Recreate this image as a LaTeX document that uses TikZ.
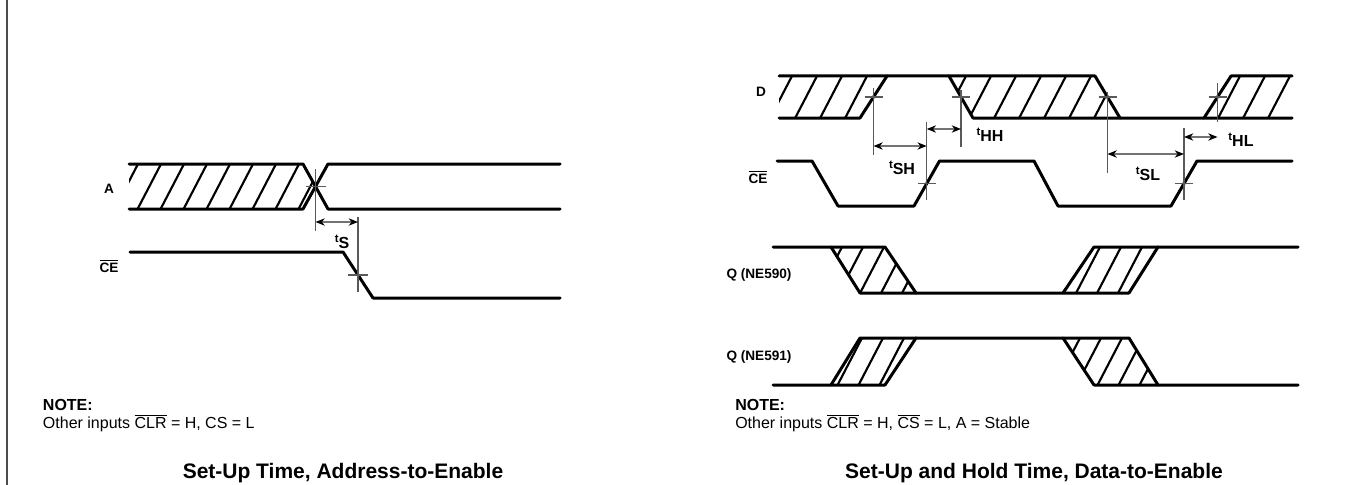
\documentclass[tikz,border=0pt]{standalone}
\usepackage{fontspec}
\setmainfont{Liberation Sans}
\usetikzlibrary{arrows.meta,calc}
\newcommand\tlab[1]{\raisebox{4.5pt}{\fontsize{8.5}{9}\selectfont t}#1}
\newcommand\hatchit[6]{% #1 clip path, #2 first top x, #3 count, #4 ytop, #5 ybot, #6 spacing
  \begin{scope}
    \clip #1;
    \foreach \k in {0,...,#3}{
      \draw[hatchline] ({#2+#6*\k+0.52*6},{#4-6}) -- ({#2+#6*\k-0.52*(#5-#4)-0.52*6},{#5+6});
    }
  \end{scope}}
\begin{document}
\begin{tikzpicture}[x=0.75pt,y=-0.75pt,
  sig/.style={line width=2.25pt,line join=round,line cap=round},
  hatchline/.style={line width=1.6pt},
  ext/.style={line width=0.9pt,draw=black!65},
  tickmark/.style={line width=0.9pt,draw=black!65},
  dim/.style={line width=0.9pt,draw=black!55,{Stealth[length=7pt,width=5.5pt,color=black]}-{Stealth[length=7pt,width=5.5pt,color=black]}},
  lbl/.style={font=\bfseries\fontsize{10.2}{12}\selectfont,inner sep=0pt},
  tlbl/.style={font=\bfseries\fontsize{12}{14}\selectfont,inner sep=0pt},
  notehead/.style={font=\bfseries\fontsize{12}{14}\selectfont,anchor=base west,inner sep=0pt},
  notetext/.style={font=\fontsize{12}{14}\selectfont,anchor=base west,inner sep=0pt},
  ttl/.style={font=\bfseries\fontsize{15.75}{18}\selectfont,anchor=base,inner sep=0pt}]
\useasboundingbox (0,0) rectangle (1356,485);
\fill[white] (0,0) rectangle (1356,485);
\draw[line width=1.5pt,black!70] (7,0) -- (7,485);

% ---------------- Left diagram ----------------
\hatchit{(129,164) -- (303,164) -- (315.5,186.5) -- (303,209) -- (129,209) -- cycle}{138}{8}{164}{209}{23}
\draw[sig] (129,164) -- (303,164) -- (328,209) -- (560,209);
\draw[sig] (129,209) -- (303,209) -- (328,164) -- (560,164);
\draw[sig] (130,252) -- (343,252) -- (373,298) -- (560,298);

\coordinate (xa) at (315.5,186.5);
\coordinate (xc) at (358,275);
\draw[ext] ($(xa)+(0,-17.5)$) -- ($(xa)+(0,44.5)$);
\draw[tickmark] ($(xa)+(-10,0)$) -- ($(xa)+(10,0)$);
\draw[ext] ($(xc)+(0,-58)$) -- ($(xc)+(0,17)$);
\draw[tickmark] ($(xc)+(-10,0)$) -- ($(xc)+(10,0)$);
\draw[dim] (xa |- 0,222) -- (xc |- 0,222);
\node[tlbl] (ts) at (342,242) {\tlab{S}};

\node[lbl] (la) at (109,189) {A};
\node[lbl] (lce) at (109,266) {$\overline{\mbox{CE}}$};

\node[notehead] (n1) at (42.7,410.7) {NOTE:};
\node[notetext] (n1b) at (42.7,428) {Other inputs $\overline{\mbox{CLR}}$ = H, CS = L};
\node[ttl] (t1) at (343,478) {Set-Up Time, Address-to-Enable};

% ---------------- Right diagram ----------------
% D
\hatchit{(779,76) -- (887,76) -- (860,118) -- (779,118) -- cycle}{792}{5}{76}{118}{25}
\hatchit{(949,76) -- (1095,76) -- (1120,118) -- (973,118) -- cycle}{966}{7}{76}{118}{25}
\hatchit{(1231,76) -- (1292,76) -- (1292,118) -- (1204,118) -- cycle}{1240}{3}{76}{118}{25}
\draw[sig] (779,118) -- (860,118) -- (887,76);
\draw[sig] (779,76) -- (1095,76) -- (1120,118);
\draw[sig] (949,76) -- (973,118) -- (1292,118);
\draw[sig] (1204,118) -- (1231,76) -- (1292,76);

% CE
\draw[sig] (777,161) -- (812,161) -- (838,206) -- (914,206) -- (939.5,161) -- (1034,161) -- (1058,206) -- (1171,206) -- (1197,161) -- (1292,161);

\coordinate (p1) at (873.5,97);
\coordinate (p2) at (961,97);
\coordinate (p3) at (1107.5,97);
\coordinate (p4) at (1217.5,97);
\coordinate (p5) at (926.75,183.5);
\coordinate (p6) at (1184,183.5);
\draw[ext] ($(p1)+(0,-9)$) -- ($(p1)+(0,58)$);
\draw[ext] ($(p2)+(0,-7)$) -- ($(p2)+(0,50)$);
\draw[ext] ($(p3)+(0,-5)$) -- ($(p3)+(0,76)$);
\draw[ext] ($(p4)+(0,-14)$) -- ($(p4)+(0,25)$);
\draw[ext] ($(p5)+(0,-61.5)$) -- ($(p5)+(0,16.5)$);
\draw[ext] ($(p6)+(0,-55.5)$) -- ($(p6)+(0,16.5)$);
\foreach \p in {p1,p2,p3,p4,p5,p6}{
  \draw[tickmark] ($(\p)+(-9,0)$) -- ($(\p)+(9,0)$);
}
\draw[dim] (p1 |- 0,146) -- (p5 |- 0,146);
\draw[dim] (p5 |- 0,129) -- (p2 |- 0,129);
\draw[dim] (p3 |- 0,154) -- (p6 |- 0,154);
\draw[dim] (p6 |- 0,137) -- (p4 |- 0,137);
\node[tlbl] (tsh) at (902,168) {\tlab{SH}};
\node[tlbl] (thh) at (990,135) {\tlab{HH}};
\node[tlbl] (tsl) at (1148,174) {\tlab{SL}};
\node[tlbl] (thl) at (1241,140) {\tlab{HL}};

% Q (NE590)
\hatchit{(831,247) -- (885,247) -- (916,293) -- (860,293) -- cycle}{842}{5}{247}{293}{21}
\hatchit{(1063,293) -- (1094,247) -- (1158,247) -- (1129,293) -- cycle}{1100}{5}{247}{293}{21}
\draw[sig] (773,247) -- (885,247) -- (916,293) -- (1129,293) -- (1158,247) -- (1298,247);
\draw[sig] (831,247) -- (860,293) -- (916,293);
\draw[sig] (1063,293) -- (1094,247) -- (1158,247);

% Q (NE591)
\hatchit{(831,385) -- (860,338) -- (916,338) -- (885,385) -- cycle}{862}{5}{338}{385}{21}
\hatchit{(1063,338) -- (1129,338) -- (1158,385) -- (1094,385) -- cycle}{1080}{5}{338}{385}{21}
\draw[sig] (773,385) -- (885,385) -- (916,338) -- (1129,338) -- (1158,385) -- (1298,385);
\draw[sig] (831,385) -- (860,338) -- (916,338);
\draw[sig] (1063,338) -- (1094,385) -- (1158,385);

\node[lbl] (ld) at (761,92) {D};
\node[lbl] (lce2) at (758,177) {$\overline{\mbox{CE}}$};
\node[lbl] (lq1) at (759,275) {Q (NE590)};
\node[lbl] (lq2) at (759,357) {Q (NE591)};

\node[notehead] (n2) at (735,410.7) {NOTE:};
\node[notetext] (n2b) at (735,428) {Other inputs $\overline{\mbox{CLR}}$ = H, $\overline{\mbox{CS}}$ = L, A = Stable};
\node[ttl] (t2) at (1034,478) {Set-Up and Hold Time, Data-to-Enable};
\end{tikzpicture}
\end{document}
